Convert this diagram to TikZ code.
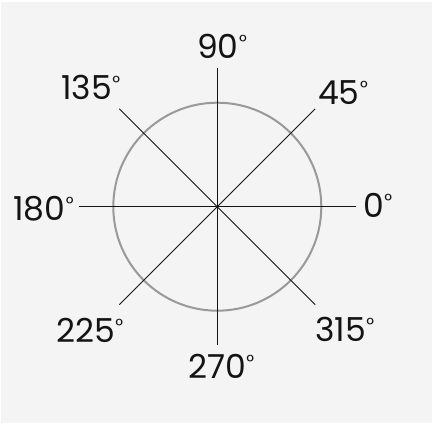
\documentclass[tikz,border=0pt]{standalone}
\usepackage{fontspec}
\setmainfont{Poppins}
\usetikzlibrary{positioning}
\usetikzlibrary{calc}
\colorlet{ring colour}{black!40}
\definecolor{paper colour}{gray}{0.955}
\colorlet{ink colour}{black!92}
% small raised degree mark, as in the drawing
\newcommand{\degmark}{\kern0.5pt\raisebox{10pt}{\fontsize{19}{19}\selectfont °}}
\tikzset{
    % Thin black spokes over a grey ring
    spoke/.style={color=ink colour, line width=0.9pt},
    ring/.style={color=ring colour, line width=2pt},
%
    % Degree labels sit on their baseline
    every node/.style={align=center},
}

\begin{document}
\begin{tikzpicture}[
    x=1pt, y=1pt,
    angle label/.style={anchor=base west, inner sep=0pt, text=ink colour,
        font=\fontsize{33}{36}\selectfont},
]
\useasboundingbox (0,0) rectangle (433,428);
\fill [paper colour] (1,5) rectangle (432,426);

\coordinate (centre) at (217.3,221.3);
\coordinate (e0) at ($(centre)+(0:138.5)$);
\coordinate (e45) at ($(centre)+(45:138.5)$);
\coordinate (e90) at ($(centre)+(90:138.5)$);
\coordinate (e135) at ($(centre)+(135:138.5)$);
\coordinate (e180) at ($(centre)+(180:138.5)$);
\coordinate (e225) at ($(centre)+(225:138.5)$);
\coordinate (e270) at ($(centre)+(270:138.5)$);
\coordinate (e315) at ($(centre)+(315:138.5)$);

\draw [ring] (centre) circle [radius=104];

\draw [spoke] (e180) -- (e0);
\draw [spoke] (e270) -- (e90);
\draw [spoke] (e225) -- (e45);
\draw [spoke] (e315) -- (e135);

\node [angle label] (l0) at (363,210) {0\degmark};
\node [angle label] (l45) at (318,323) {45\degmark};
\node [angle label] (l90) at (197,369) {90\degmark};
\node [angle label] (l135) at (61,328) {135\degmark};
\node [angle label] (l180) at (13,207) {180\degmark};
\node [angle label] (l225) at (56,85) {225\degmark};
\node [angle label] (l270) at (188,49) {270\degmark};
\node [angle label] (l315) at (315,86) {315\degmark};

\end{tikzpicture}
\end{document}
